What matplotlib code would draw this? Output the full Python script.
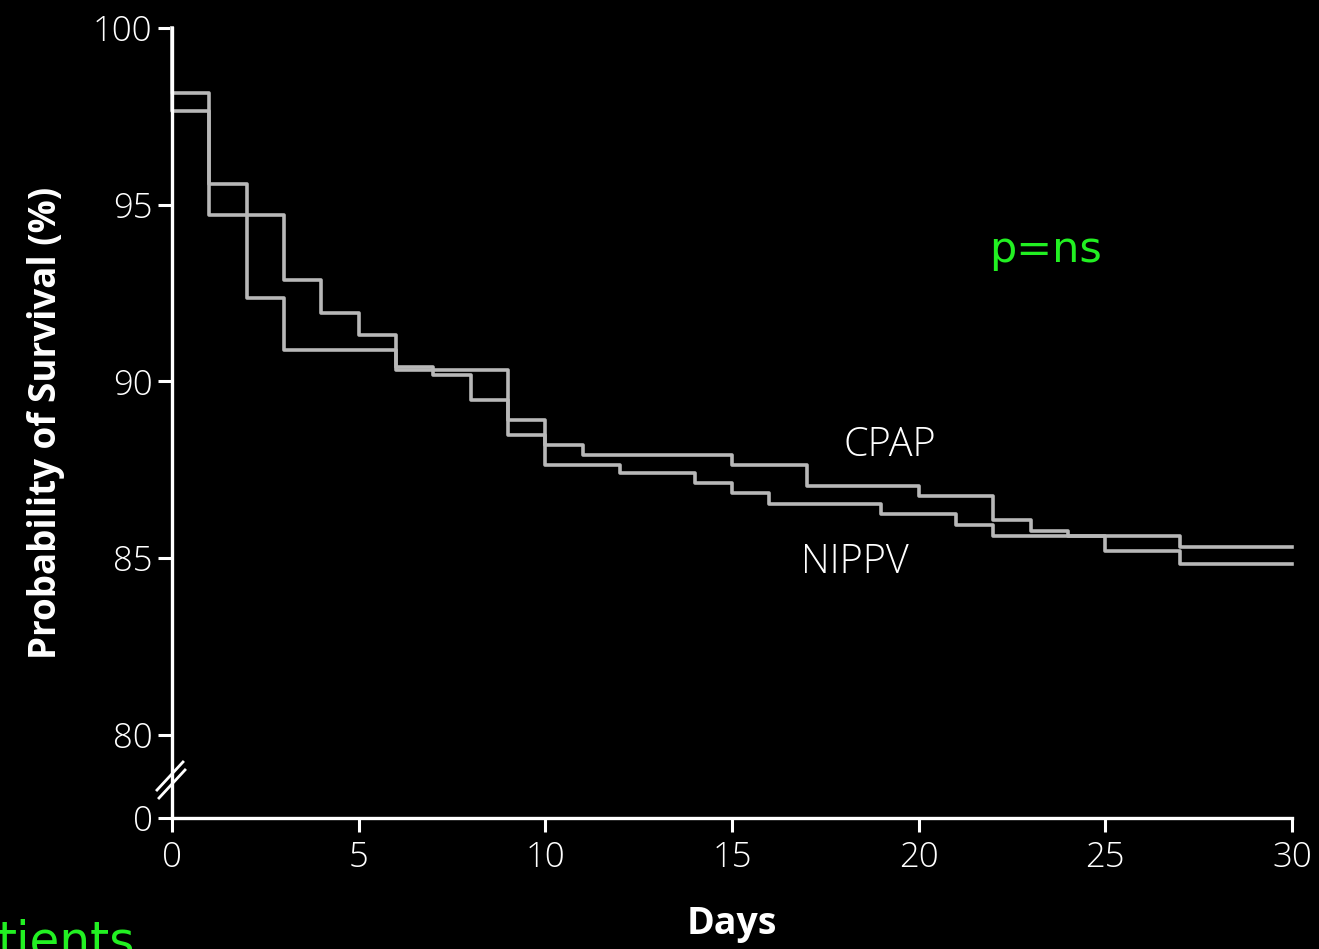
import numpy as np
import matplotlib
matplotlib.use("Agg")
import matplotlib.pyplot as plt

# Kaplan-Meier step data: day of each step and survival (%) after it
cpap_days = [0, 0, 1, 3, 4, 5, 6, 9, 10, 11, 15, 17, 20, 22, 23, 24, 27, 30]
cpap_surv = [100, 97.66, 94.71, 92.87, 91.95, 91.32, 90.33, 88.91, 88.20,
             87.92, 87.64, 87.04, 86.76, 86.08, 85.78, 85.64, 85.33, 85.33]

nippv_days = [0, 0, 1, 2, 3, 6, 7, 8, 9, 10, 12, 14, 15, 16, 19, 21, 22, 25, 27, 30]
nippv_surv = [100, 98.15, 95.60, 92.35, 90.89, 90.40, 90.18, 89.48, 88.49, 87.64,
              87.42, 87.12, 86.84, 86.53, 86.25, 85.94, 85.63, 85.19, 84.83, 84.83]

# broken y axis: the bottom of the axis stands for 0
y_bottom = 77.65
y_ticks = [y_bottom, 80, 85, 90, 95, 100]
y_tick_labels = ["0", "80", "85", "90", "95", "100"]
x_ticks = [0, 5, 10, 15, 20, 25, 30]

line_col = "#b8b8b8"
fg = "white"
thin = ["Open Sans", "DejaVu Sans"]

fig = plt.figure(figsize=(13.19, 9.49), dpi=100, facecolor="black")
ax = fig.add_axes([172 / 1319, 1 - 818 / 949, 1120 / 1319, 790 / 949])
ax.set_facecolor("black")

ax.step(cpap_days, cpap_surv, where="post", color=line_col, lw=2.6, clip_on=False)
ax.step(nippv_days, nippv_surv, where="post", color=line_col, lw=2.6, clip_on=False)

ax.set_xlim(0, 30)
ax.set_ylim(y_bottom, 100)
ax.set_xticks(x_ticks)
ax.set_yticks(y_ticks)
ax.set_yticklabels(y_tick_labels)

for side in ["top", "right"]:
    ax.spines[side].set_visible(False)
for side in ["left", "bottom"]:
    ax.spines[side].set_color(fg)
    ax.spines[side].set_linewidth(2.4)

ax.tick_params(axis="both", colors=fg, width=2.2, length=10, labelsize=25)
ax.tick_params(axis="y", pad=4)
ax.tick_params(axis="x", pad=6)
for lab in ax.get_xticklabels() + ax.get_yticklabels():
    lab.set_family(thin)
    lab.set_fontweight("light")

ax.set_xlabel("Days", color=fg, fontsize=27, fontweight="bold",
              family=thin, labelpad=22)
ax.set_ylabel("Probability of Survival (%)", color=fg, fontsize=26.5,
              fontweight="bold", family=thin, labelpad=20)

# axis break marks between 80 and 0
ax.plot([-0.0134, 0.0098], [0.0354, 0.0709], transform=ax.transAxes,
        color=fg, lw=2.0, clip_on=False)
ax.plot([-0.0116, 0.0116], [0.0253, 0.0608], transform=ax.transAxes,
        color=fg, lw=2.0, clip_on=False)

ax.text(19.23, 88.18, "CPAP", color=fg, fontsize=28.5, fontweight="light",
        family=thin, ha="center", va="center")
ax.text(18.3, 84.89, "NIPPV", color=fg, fontsize=28.5, fontweight="light",
        family=thin, ha="center", va="center")

ax.text(23.39, 93.38, "p=ns", color="#22f022", fontsize=31, ha="center",
        va="baseline")
fig.text(-0.002, -0.008, "tients", color="#22f022", fontsize=35,
         ha="left", va="baseline")

fig.savefig("out.png", dpi=100, facecolor="black")
